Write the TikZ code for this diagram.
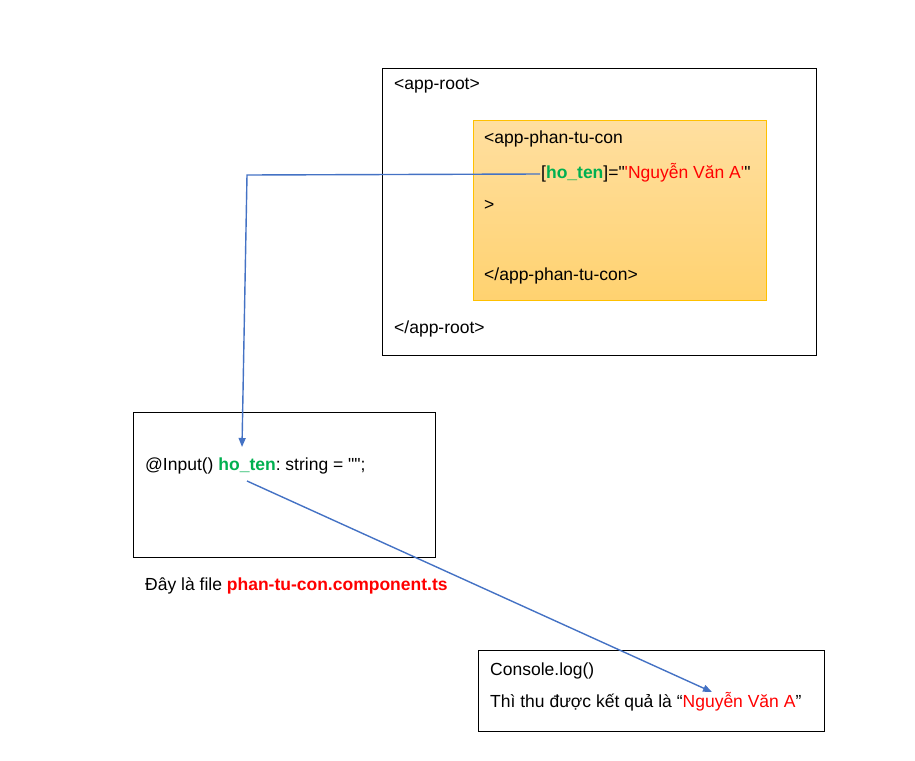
\documentclass[tikz,border=0pt]{standalone}
\usepackage{fontspec}
\setmainfont{Liberation Sans}[Ligatures=TeXOff]
\usetikzlibrary{arrows.meta}
\definecolor{linkblue}{HTML}{4472C4}
\definecolor{tengreen}{HTML}{00B050}
\definecolor{valred}{HTML}{FF0000}
\definecolor{boxorange}{HTML}{FFC000}
\definecolor{fillhi}{HTML}{FFDFA0}
\definecolor{filllo}{HTML}{FFD270}
\frenchspacing

\begin{document}
\begin{tikzpicture}[x=1pt,y=-1pt]
\tikzstyle{every node}+=[inner sep=0pt,font=\fontsize{17.5}{21}\selectfont]
\tikzstyle{txt}=[anchor=base west]
\tikzstyle{link}=[linkblue,line width=1.4pt,-{Triangle[length=9pt,width=7pt]}]
\useasboundingbox (0,0) rectangle (915,760);
% outer component
\draw [black] (382,68) rectangle (816,355);
\node [txt] (root_open) at (394,89) {<app-root>};
\node [txt] (root_close) at (394,333) {</app-root>};
% child component
\draw [boxorange,top color=fillhi,bottom color=filllo] (473,120) rectangle (766,300);
\node [txt] (child_open) at (484,143) {<app-phan-tu-con};
\node [txt] (attr) at (541,178) {[\textcolor{tengreen}{\textbf{ho\_ten}}]="\textcolor{valred}{'Nguyễn Văn A'}"};
\node [txt] (child_gt) at (484,210) {>};
\node [txt] (child_close) at (484,280) {</app-phan-tu-con>};
% ts file
\draw [black] (133,412) rectangle (435,557);
\node [txt] (input) at (145,470) {@Input() \textcolor{tengreen}{\textbf{ho\_ten}}: string = "";};
\node [txt] (filename) at (145,590) {Đây là file \textcolor{valred}{\textbf{phan-tu-con.component.ts}}};
% console
\draw [black] (478,650) rectangle (824,731);
\node [txt] (log) at (490,675) {Console.log()};
\node [txt] (result) at (490,707) {Thì thu được kết quả là “\textcolor{valred}{Nguyễn Văn A}”};
% connectors
\coordinate (attr_in) at (540,174);
\coordinate (bend) at (247,175);
\coordinate (input_top) at (242,447);
\coordinate (input_low) at (247,481);
\coordinate (result_top) at (712,692);
\draw [link] (attr_in) -- (bend) -- (input_top);
\draw [link] (input_low) -- (result_top);
\end{tikzpicture}
\end{document}
